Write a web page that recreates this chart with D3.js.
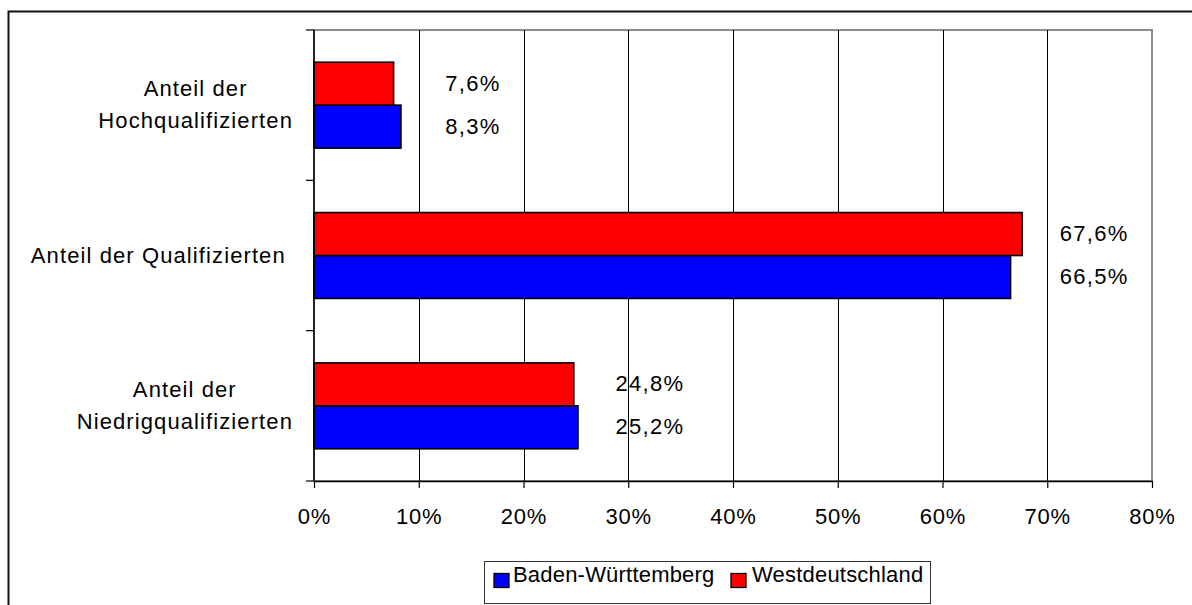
<!DOCTYPE html>
<html>
<head>
<meta charset="utf-8">
<script src="https://cdn.jsdelivr.net/npm/d3@7"></script>
<style>
  html, body { margin: 0; padding: 0; background: #fff; }
  svg { display: block; }
  text { font-family: "Liberation Sans", Arial, sans-serif; fill: #000; }
</style>
</head>
<body>
<svg id="chart" width="1192" height="605"></svg>
<script>
// ---- data ----
const categories = [
  ["Anteil der", "Hochqualifizierten"],
  ["Anteil der Qualifizierten "],
  ["Anteil der", "Niedrigqualifizierten"]
];
const seriesNames = ["Baden-Württemberg", "Westdeutschland"];
const bwValues = [8.3, 66.5, 25.2];
const westValues = [7.6, 67.6, 24.8];
const xTicks = [0, 10, 20, 30, 40, 50, 60, 70, 80];
const seriesColors = ["#0000FF", "#FF0000"];

(function () {
// ---- layout ----
const svg = d3.select("#chart");
const pLeft = 314, pRight = 1152, pTop = 30, pBottom = 481;
const fontSize = 22;

// outer chart border
svg.append("rect")
  .attr("x", 8.5).attr("y", 11.5).attr("width", 1300).attr("height", 700)
  .attr("fill", "none").attr("stroke", "#111").attr("stroke-width", 2);

const x = d3.scaleLinear().domain([0, 80]).range([pLeft, pRight]);
const catIdx = categories.map((d, i) => i);
const y0 = d3.scaleBand().domain(catIdx).range([pTop, pBottom]).padding(0);
// within-category: Westdeutschland (red) on top, Baden-Württemberg (blue) below
const y1 = d3.scaleBand().domain([1, 0]).range([0, y0.bandwidth()])
  .paddingInner(0).paddingOuter(0.75);

// plot area border (gray)
svg.append("rect")
  .attr("x", pLeft).attr("y", pTop).attr("width", pRight - pLeft).attr("height", pBottom - pTop)
  .attr("fill", "#fff").attr("stroke", "#8c8c8c").attr("stroke-width", 2);

// vertical grid lines
svg.append("g").selectAll("line")
  .data(xTicks.filter(t => t > 0 && t < 80))
  .join("line")
  .attr("x1", d => Math.round(x(d)) + 0.5).attr("x2", d => Math.round(x(d)) + 0.5)
  .attr("y1", pTop).attr("y2", pBottom)
  .attr("stroke", "#000").attr("stroke-width", 1);

// bars
const seriesData = [bwValues, westValues];
const barG = svg.append("g");
seriesData.forEach((vals, s) => {
  barG.append("g").selectAll("rect")
    .data(vals.map((v, i) => ({ v, i })))
    .join("rect")
    .attr("x", x(0))
    .attr("y", d => y0(d.i) + y1(s))
    .attr("width", d => x(d.v) - x(0))
    .attr("height", y1.bandwidth())
    .attr("fill", seriesColors[s])
    .attr("stroke", "#000").attr("stroke-width", 1.6);
});

// value labels
const fmt = v => d3.format(".1f")(v).replace(".", ",") + "%";
seriesData.forEach((vals, s) => {
  svg.append("g").selectAll("text")
    .data(vals.map((v, i) => ({ v, i })))
    .join("text")
    .attr("x", d => x(Math.max(bwValues[d.i], westValues[d.i])) + 72)
    .attr("y", d => y0(d.i) + y1(s) + y1.bandwidth() / 2 + 7)
    .attr("text-anchor", "middle")
    .attr("font-size", fontSize)
    .attr("letter-spacing", 1.3)
    .text(d => fmt(d.v));
});

// x axis
const xAxis = d3.axisBottom(x).tickValues(xTicks).tickFormat(d => d + "%")
  .tickSize(7).tickSizeOuter(0);
const xg = svg.append("g").attr("transform", `translate(0,${pBottom})`).call(xAxis);
xg.select(".domain").attr("stroke", "#000").attr("stroke-width", 1.5);
xg.selectAll(".tick line").attr("stroke", "#000").attr("stroke-width", 1.2);
xg.selectAll(".tick text")
  .attr("font-size", fontSize).attr("font-family", "Liberation Sans, Arial, sans-serif")
  .attr("letter-spacing", 0.8)
  .attr("fill", "#000").attr("dy", null).attr("y", 43);

// y axis: ticks at category boundaries
const yBounds = [pTop, ...catIdx.map(i => y0(i) + y0.bandwidth())];
svg.append("line")
  .attr("x1", pLeft).attr("x2", pLeft).attr("y1", pTop).attr("y2", pBottom)
  .attr("stroke", "#000").attr("stroke-width", 1.5);
svg.append("g").selectAll("line")
  .data(yBounds).join("line")
  .attr("x1", pLeft - 8).attr("x2", pLeft)
  .attr("y1", d => d).attr("y2", d => d)
  .attr("stroke", "#000").attr("stroke-width", 1.2);

// category labels: block right-aligned, lines centered in block
const labelRight = 293;
const lineH = 32;
categories.forEach((lines, i) => {
  const cy = y0(i) + y0.bandwidth() / 2;
  const g = svg.append("g");
  const texts = lines.map((ln, j) => g.append("text")
    .style("white-space", "pre")
    .attr("font-size", fontSize)
    .attr("letter-spacing", 1.1)
    .attr("text-anchor", "middle")
    .attr("y", cy + (j - (lines.length - 1) / 2) * lineH + 7)
    .text(ln));
  const w = d3.max(texts, t => t.node().getComputedTextLength());
  texts.forEach(t => t.attr("x", labelRight - w / 2));
});

// legend
const lg = svg.append("g");
lg.append("rect")
  .attr("x", 484.5).attr("y", 561.5).attr("width", 446).attr("height", 42)
  .attr("fill", "#fff").attr("stroke", "#333").attr("stroke-width", 1);
const legendItems = [
  { name: seriesNames[0], color: seriesColors[0], sx: 494, tx: 513 },
  { name: seriesNames[1], color: seriesColors[1], sx: 731, tx: 752 }
];
legendItems.forEach(it => {
  lg.append("rect")
    .attr("x", it.sx).attr("y", 573.5).attr("width", 15).attr("height", 14)
    .attr("fill", it.color).attr("stroke", "#000").attr("stroke-width", 1.3);
  lg.append("text")
    .attr("x", it.tx).attr("y", 582)
    .attr("font-size", fontSize)
    .attr("letter-spacing", 0.2)
    .text(it.name);
});
})();
</script>
</body>
</html>
